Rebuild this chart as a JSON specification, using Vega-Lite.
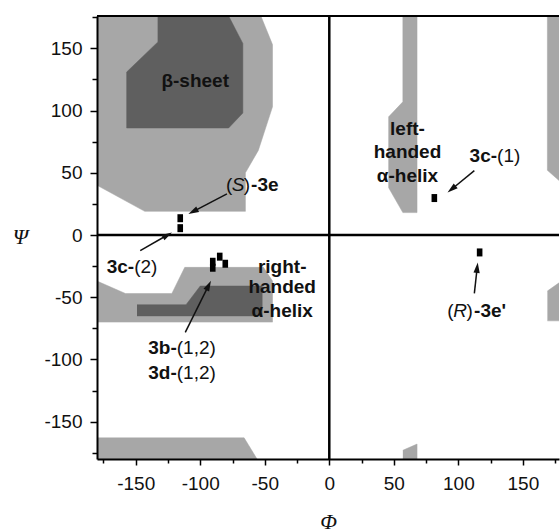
{
  "$schema": "https://vega.github.io/schema/vega-lite/v6.json",
  "autosize": {"type": "none"},
  "padding": {"left": 97, "top": 16, "right": 1, "bottom": 73},
  "width": 462,
  "height": 443,
  "background": "white",
  "config": {"view": {"stroke": null}},
  "datasets": {
    "light": [
      {"id": "A", "i": 1, "phi": -180, "psi": 176}, {"id": "A", "i": 2, "phi": -53, "psi": 176}, {"id": "A", "i": 3, "phi": -44, "psi": 153}, {"id": "A", "i": 4, "phi": -44, "psi": 103}, {"id": "A", "i": 5, "phi": -55, "psi": 68}, {"id": "A", "i": 6, "phi": -65, "psi": 50}, {"id": "A", "i": 7, "phi": -65, "psi": 19}, {"id": "A", "i": 8, "phi": -143, "psi": 19}, {"id": "A", "i": 9, "phi": -180, "psi": 40},
      {"id": "B", "i": 1, "phi": -180, "psi": -37}, {"id": "B", "i": 2, "phi": -158, "psi": -47}, {"id": "B", "i": 3, "phi": -122, "psi": -47}, {"id": "B", "i": 4, "phi": -112, "psi": -26}, {"id": "B", "i": 5, "phi": -51, "psi": -26}, {"id": "B", "i": 6, "phi": -44, "psi": -37}, {"id": "B", "i": 7, "phi": -44, "psi": -70}, {"id": "B", "i": 8, "phi": -180, "psi": -70},
      {"id": "C", "i": 1, "phi": -180, "psi": -163}, {"id": "C", "i": 2, "phi": -66, "psi": -163}, {"id": "C", "i": 3, "phi": -56, "psi": -180}, {"id": "C", "i": 4, "phi": -180, "psi": -180},
      {"id": "D", "i": 1, "phi": 57, "psi": 176}, {"id": "D", "i": 2, "phi": 57, "psi": 107}, {"id": "D", "i": 3, "phi": 46, "psi": 95}, {"id": "D", "i": 4, "phi": 46, "psi": 38}, {"id": "D", "i": 5, "phi": 57, "psi": 18}, {"id": "D", "i": 6, "phi": 68, "psi": 18}, {"id": "D", "i": 7, "phi": 68, "psi": 176},
      {"id": "E", "i": 1, "phi": 169, "psi": 176}, {"id": "E", "i": 2, "phi": 169, "psi": 52}, {"id": "E", "i": 3, "phi": 180, "psi": 42}, {"id": "E", "i": 4, "phi": 180, "psi": 176},
      {"id": "F", "i": 1, "phi": 169, "psi": -45}, {"id": "F", "i": 2, "phi": 180, "psi": -37}, {"id": "F", "i": 3, "phi": 180, "psi": -69}, {"id": "F", "i": 4, "phi": 169, "psi": -69},
      {"id": "G", "i": 1, "phi": 57, "psi": -173}, {"id": "G", "i": 2, "phi": 68, "psi": -168}, {"id": "G", "i": 3, "phi": 68, "psi": -180}, {"id": "G", "i": 4, "phi": 57, "psi": -180}
    ],
    "dark": [
      {"id": "H", "i": 1, "phi": -133, "psi": 176}, {"id": "H", "i": 2, "phi": -78, "psi": 176}, {"id": "H", "i": 3, "phi": -67, "psi": 154}, {"id": "H", "i": 4, "phi": -67, "psi": 98}, {"id": "H", "i": 5, "phi": -78, "psi": 86}, {"id": "H", "i": 6, "phi": -157, "psi": 86}, {"id": "H", "i": 7, "phi": -157, "psi": 131}, {"id": "H", "i": 8, "phi": -133, "psi": 155},
      {"id": "I", "i": 1, "phi": -149, "psi": -56}, {"id": "I", "i": 2, "phi": -111, "psi": -56}, {"id": "I", "i": 3, "phi": -100, "psi": -41}, {"id": "I", "i": 4, "phi": -52, "psi": -41}, {"id": "I", "i": 5, "phi": -52, "psi": -65}, {"id": "I", "i": 6, "phi": -149, "psi": -65}
    ],
    "markers": [
      {"phi": -115.5, "psi": 13.5}, {"phi": -115.5, "psi": 5.5},
      {"phi": -84.9, "psi": -17.4}, {"phi": -90.3, "psi": -21.5}, {"phi": -90.3, "psi": -26.3}, {"phi": -80.6, "psi": -23.1},
      {"phi": 81.4, "psi": 29.7},
      {"phi": 116.5, "psi": -14}
    ],
    "arrows": [
      {"label": "(S)-3e", "phi": -79.3, "psi": 33, "phi2": -105.6, "psi2": 18.8, "heading": 242.5},
      {"label": "3c-(2)", "phi": -146.5, "psi": -12.6, "phi2": -125.4, "psi2": 0, "heading": 60},
      {"label": "3c-(1)", "phi": 112.4, "psi": 51.7, "phi2": 94.8, "psi2": 36.8, "heading": 230.8},
      {"label": "3b/3d", "phi": -111.6, "psi": -78.3, "phi2": -93.5, "psi2": -40.5, "heading": 26.4},
      {"label": "(R)-3e'", "phi": 112.4, "psi": -46.9, "phi2": 114.6, "psi2": -26.2, "heading": 6.3}
    ],
    "regionLabels": [
      {"phi": -103.9, "psi": 124, "text": "β-sheet"},
      {"phi": 60.6, "psi": 85.2, "text": "left-"},
      {"phi": 60.6, "psi": 66.4, "text": "handed"},
      {"phi": 60.6, "psi": 47.7, "text": "α-helix"},
      {"phi": -36.5, "psi": -26, "text": "right-"},
      {"phi": -36.5, "psi": -42.1, "text": "handed"},
      {"phi": -36.5, "psi": -60.9, "text": "α-helix"}
    ],
    "boldRight": [
      {"phi": 130, "psi": 63.7, "text": "3c-"},
      {"phi": -151.2, "psi": -26, "text": "3c-"},
      {"phi": -118.2, "psi": -90.4, "text": "3b-"},
      {"phi": -118.2, "psi": -110.5, "text": "3d-"}
    ],
    "normalLeft": [
      {"phi": 130, "psi": 63.7, "text": "(1)"},
      {"phi": -151.2, "psi": -26, "text": "(2)"},
      {"phi": -118.2, "psi": -90.4, "text": "(1,2)"},
      {"phi": -118.2, "psi": -110.5, "text": "(1,2)"},
      {"phi": -66.3, "psi": 40.2, "text": ")"},
      {"phi": 106.3, "psi": -60.9, "text": ")"}
    ],
    "normalRight": [
      {"phi": -75.2, "psi": 40.2, "text": "("},
      {"phi": 96.4, "psi": -60.9, "text": "("}
    ],
    "italicCenter": [
      {"phi": -70.7, "psi": 40.2, "text": "S"},
      {"phi": 101.4, "psi": -60.9, "text": "R"}
    ],
    "boldLeft": [
      {"phi": -60.6, "psi": 40.2, "text": "-3e"},
      {"phi": 112.2, "psi": -60.9, "text": "-3e'"}
    ]
  },
  "resolve": {"axis": {"x": "independent", "y": "independent"}},
  "layer": [
    {
      "data": {"name": "light"},
      "mark": {"type": "line", "fill": "#a7a7a7", "stroke": "#a7a7a7", "strokeWidth": 0.5, "clip": true},
      "encoding": {
        "x": {"field": "phi", "type": "quantitative",
          "scale": {"domain": [-180, 178], "nice": false, "zero": false},
          "axis": {"orient": "bottom", "values": [-150, -100, -50, 0, 50, 100, 150], "title": "Φ", "grid": false, "zindex": 1,
            "labelExpr": "replace(datum.label, '−', '-')",
            "domainColor": "black", "domainWidth": 2, "tickColor": "black", "tickWidth": 1.5, "tickSize": 6,
            "labelFont": "Liberation Sans", "labelFontSize": 19, "labelColor": "#111", "labelPadding": 9, "labelFlush": false,
            "titleFont": "Liberation Serif", "titleFontStyle": "italic", "titleFontWeight": "normal", "titleFontSize": 22, "titleColor": "#111",
            "titleBaseline": "middle", "titleY": 62}},
        "y": {"field": "psi", "type": "quantitative",
          "scale": {"domain": [-180, 176], "nice": false, "zero": false},
          "axis": {"orient": "left", "values": [-150, -100, -50, 0, 50, 100, 150], "title": "Ψ", "grid": false, "zindex": 1,
            "labelExpr": "replace(datum.label, '−', '-')",
            "domainColor": "black", "domainWidth": 2, "tickColor": "black", "tickWidth": 1.5, "tickSize": 7,
            "labelFont": "Liberation Sans", "labelFontSize": 19, "labelColor": "#111", "labelPadding": 8, "labelFlush": false,
            "titleFont": "Liberation Serif", "titleFontStyle": "italic", "titleFontWeight": "normal", "titleFontSize": 22, "titleColor": "#111",
            "titleAngle": 0, "titleAlign": "center", "titleBaseline": "middle", "titleX": -77, "titleY": 220}},
        "detail": {"field": "id"},
        "order": {"field": "i", "type": "quantitative"}
      }
    },
    {
      "data": {"name": "dark"},
      "mark": {"type": "line", "fill": "#5f5f5f", "stroke": "#5f5f5f", "strokeWidth": 0.5, "clip": true},
      "encoding": {
        "x": {"field": "phi", "type": "quantitative", "axis": null},
        "y": {"field": "psi", "type": "quantitative", "axis": null},
        "detail": {"field": "id"},
        "order": {"field": "i", "type": "quantitative"}
      }
    },
    {
      "data": {"values": [{"line": "phi0"}]},
      "mark": {"type": "rule", "color": "black", "strokeWidth": 2.5},
      "encoding": {
        "x": {"datum": 0, "type": "quantitative",
          "axis": {"orient": "bottom", "values": [-175, -125, -75, -25, 25, 75, 125, 175], "labels": false, "domain": false, "title": null, "grid": false,
            "tickColor": "black", "tickWidth": 1.5, "tickSize": 4}}
      }
    },
    {
      "data": {"values": [{"line": "psi0"}]},
      "mark": {"type": "rule", "color": "black", "strokeWidth": 2.5},
      "encoding": {
        "y": {"datum": 0, "type": "quantitative",
          "axis": {"orient": "left", "values": [-175, -125, -75, -25, 25, 75, 125, 175], "labels": false, "domain": false, "title": null, "grid": false,
            "tickColor": "black", "tickWidth": 1.5, "tickSize": 5}}
      }
    },
    {
      "data": {"values": [{"line": "top"}]},
      "mark": {"type": "rule", "color": "black", "strokeWidth": 2},
      "encoding": {"y": {"datum": 176, "type": "quantitative", "axis": null}}
    },
    {
      "data": {"name": "markers"},
      "mark": {"type": "point", "shape": "M-0.7,-1H0.7V1H-0.7Z", "filled": true, "color": "black", "opacity": 1, "size": 64},
      "encoding": {
        "x": {"field": "phi", "type": "quantitative", "axis": null},
        "y": {"field": "psi", "type": "quantitative", "axis": null}
      }
    },
    {
      "data": {"name": "arrows"},
      "mark": {"type": "rule", "color": "#111", "strokeWidth": 1.5},
      "encoding": {
        "x": {"field": "phi", "type": "quantitative", "axis": null},
        "y": {"field": "psi", "type": "quantitative", "axis": null},
        "x2": {"field": "phi2"},
        "y2": {"field": "psi2"}
      }
    },
    {
      "data": {"name": "arrows"},
      "mark": {"type": "point", "shape": "M0,-1L0.6,1L-0.6,1Z", "filled": true, "color": "#111", "opacity": 1, "size": 110},
      "encoding": {
        "x": {"field": "phi2", "type": "quantitative", "axis": null},
        "y": {"field": "psi2", "type": "quantitative", "axis": null},
        "angle": {"field": "heading", "type": "quantitative", "scale": null}
      }
    },
    {
      "data": {"name": "regionLabels"},
      "mark": {"type": "text", "font": "Liberation Sans", "fontSize": 19, "fontWeight": "bold", "color": "#111", "align": "center", "baseline": "middle"},
      "encoding": {
        "x": {"field": "phi", "type": "quantitative", "axis": null},
        "y": {"field": "psi", "type": "quantitative", "axis": null},
        "text": {"field": "text"}
      }
    },
    {
      "data": {"name": "boldRight"},
      "mark": {"type": "text", "font": "Liberation Sans", "fontSize": 19, "fontWeight": "bold", "color": "#111", "align": "right", "baseline": "middle"},
      "encoding": {
        "x": {"field": "phi", "type": "quantitative", "axis": null},
        "y": {"field": "psi", "type": "quantitative", "axis": null},
        "text": {"field": "text"}
      }
    },
    {
      "data": {"name": "normalLeft"},
      "mark": {"type": "text", "font": "Liberation Sans", "fontSize": 19, "fontWeight": "normal", "color": "#111", "align": "left", "baseline": "middle"},
      "encoding": {
        "x": {"field": "phi", "type": "quantitative", "axis": null},
        "y": {"field": "psi", "type": "quantitative", "axis": null},
        "text": {"field": "text"}
      }
    },
    {
      "data": {"name": "normalRight"},
      "mark": {"type": "text", "font": "Liberation Sans", "fontSize": 19, "fontWeight": "normal", "color": "#111", "align": "right", "baseline": "middle"},
      "encoding": {
        "x": {"field": "phi", "type": "quantitative", "axis": null},
        "y": {"field": "psi", "type": "quantitative", "axis": null},
        "text": {"field": "text"}
      }
    },
    {
      "data": {"name": "italicCenter"},
      "mark": {"type": "text", "font": "Liberation Sans", "fontSize": 19, "fontWeight": "normal", "fontStyle": "italic", "color": "#111", "align": "center", "baseline": "middle"},
      "encoding": {
        "x": {"field": "phi", "type": "quantitative", "axis": null},
        "y": {"field": "psi", "type": "quantitative", "axis": null},
        "text": {"field": "text"}
      }
    },
    {
      "data": {"name": "boldLeft"},
      "mark": {"type": "text", "font": "Liberation Sans", "fontSize": 19, "fontWeight": "bold", "color": "#111", "align": "left", "baseline": "middle"},
      "encoding": {
        "x": {"field": "phi", "type": "quantitative", "axis": null},
        "y": {"field": "psi", "type": "quantitative", "axis": null},
        "text": {"field": "text"}
      }
    }
  ]
}
